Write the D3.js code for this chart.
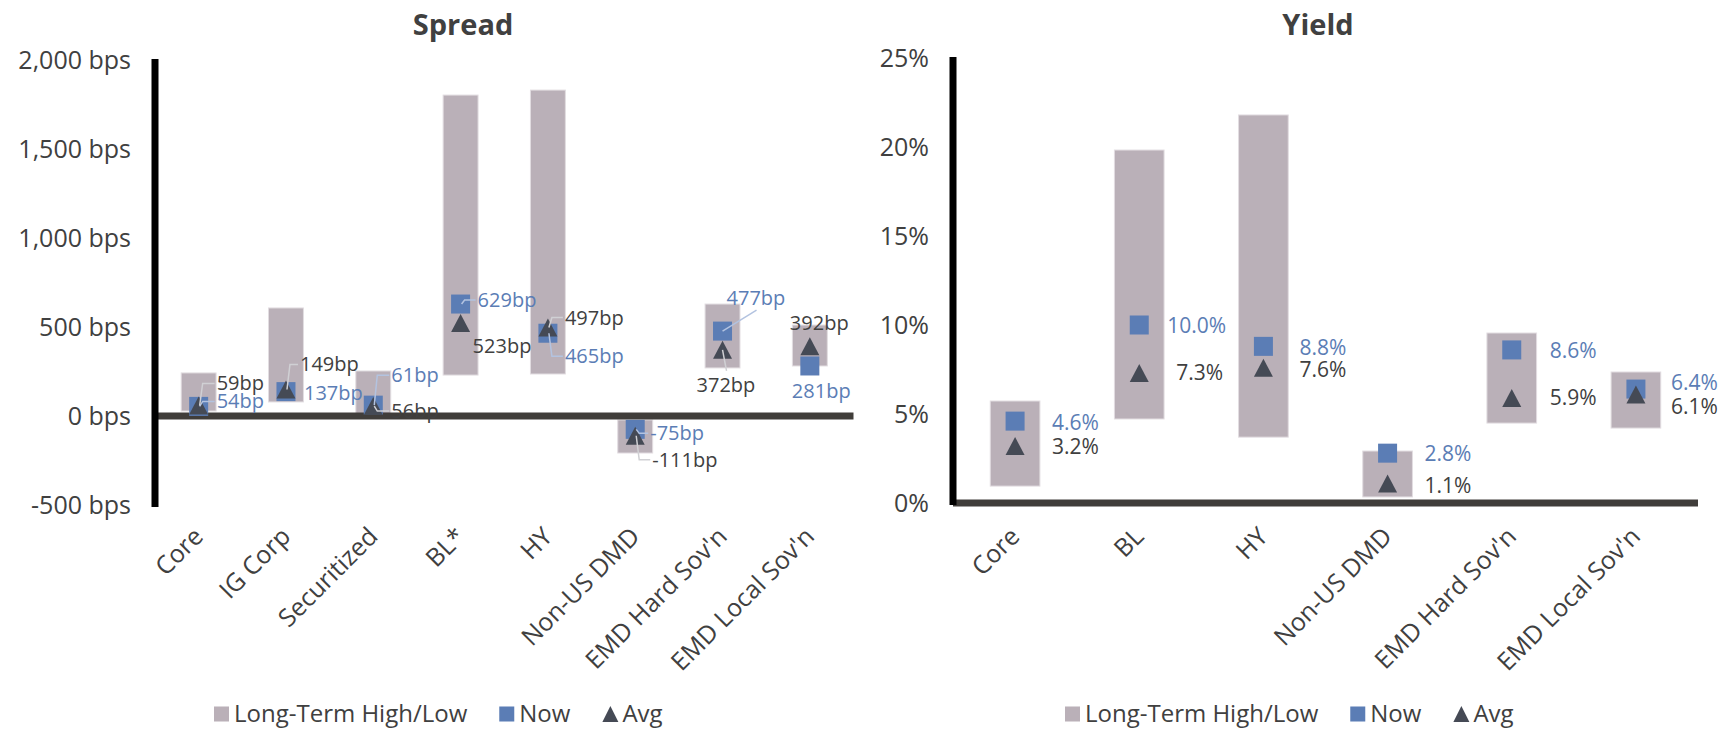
<!DOCTYPE html>
<html>
<head>
<meta charset="utf-8">
<script src="https://cdn.jsdelivr.net/npm/d3@7"></script>
<style>
  body { margin: 0; background: #fff; }
  text { font-family: "Open Sans", "Noto Sans", sans-serif; fill: #404040; }
</style>
</head>
<body>
<div id="root"></div>
<script>
// Spread data (bps)
const spreadCats = ["Core", "IG Corp", "Securitized", "BL*", "HY", "Non-US DMD", "EMD Hard Sov'n", "EMD Local Sov'n"];
const spreadHigh = [242, 607, 253, 1803, 1831, -22, 629, 511];
const spreadLow = [28, 79, 2, 230, 236, -208, 270, 281];
const spreadNow = [54, 137, 61, 629, 465, -75, 477, 281];
const spreadAvg = [59, 149, 56, 523, 497, -111, 372, 392];
const spreadTicks = [-500, 0, 500, 1000, 1500, 2000];

// Yield data (%)
const yieldCats = ["Core", "BL", "HY", "Non-US DMD", "EMD Hard Sov'n", "EMD Local Sov'n"];
const yieldHigh = [5.73, 19.83, 21.8, 2.92, 9.55, 7.36];
const yieldLow = [0.95, 4.72, 3.7, 0.34, 4.49, 4.21];
const yieldNow = [4.6, 10.0, 8.8, 2.8, 8.6, 6.4];
const yieldAvg = [3.2, 7.3, 7.6, 1.1, 5.9, 6.1];
const yieldTicks = [0, 5, 10, 15, 20, 25];

// label placement (px offset from marker, leader type)
const spreadNowLbl = [[18, -5, "e"], [18, 1, null], [18, -30, "e"], [17, -4, "e"], [17, 23, "e"], [15, 4, "e"], [4, -33, "b"], [-18, 25, null]];
const spreadAvgLbl = [[18, -22, "e"], [14, -25, "e"], [18, 5, "e"], [12, 23, null], [17, -10, "e"], [17, 24, "e"], [-26, 35, "t"], [-20, -23, null]];
const yieldNowLbl = [[37, 2], [28, 1], [36, 1], [37, 0], [38, 1], [35, -6]];
const yieldAvgLbl = [[37, 1], [37, 0], [36, 2], [37, 2], [38, 0], [35, 12]];

const barColor = "#bab0b8", nowColor = "#5b7db5", avgColor = "#454a55";

const svg = d3.select("#root").append("svg")
    .attr("width", 1731)
    .attr("height", 731);

const triPath = "M0,-9L9.5,9L-9.5,9Z";

function drawPanel(opt) {
    const g = svg.append("g");
    const x = d3.scaleBand().domain(opt.cats).range([opt.left, opt.right]).padding(0);
    const y = d3.scaleLinear().domain(opt.domain).range([opt.bottom, opt.top]);
    const bw = x.bandwidth() * 0.4;
    const cx = (i) => x(opt.cats[i]) + x.bandwidth() / 2;

    // title
    g.append("text")
        .attr("x", opt.titleX).attr("y", 25)
        .attr("dy", "0.35em")
        .attr("text-anchor", "middle")
        .style("font-size", "29px").style("font-weight", "bold")
        .text(opt.title);

    // y axis labels
    const ya = g.append("g")
        .attr("transform", "translate(" + (opt.left - 24) + ",0)")
        .call(d3.axisLeft(y).tickValues(opt.ticks).tickSize(0).tickPadding(0).tickFormat(opt.fmt));
    ya.select(".domain").remove();
    ya.selectAll("text").style("font-size", "25px").attr("fill", "#404040")
        .style("font-family", "'Open Sans', sans-serif");

    // range bars
    g.selectAll("rect.rng").data(opt.cats).enter().append("rect")
        .attr("class", "rng")
        .attr("x", (d, i) => cx(i) - bw / 2)
        .attr("width", bw)
        .attr("y", (d, i) => y(opt.high[i]))
        .attr("height", (d, i) => y(opt.low[i]) - y(opt.high[i]))
        .attr("fill", barColor)
        .attr("stroke", "#e2dde1").attr("stroke-width", 1);

    // axes lines
    g.append("line")
        .attr("x1", opt.left).attr("x2", opt.right)
        .attr("y1", y(0)).attr("y2", y(0))
        .attr("stroke", "#403d3a").attr("stroke-width", 7);
    g.append("line")
        .attr("x1", opt.left).attr("x2", opt.left)
        .attr("y1", opt.top - 1).attr("y2", opt.bottom + 2)
        .attr("stroke", "#000").attr("stroke-width", 7);

    // leaders
    function leader(i, v, lbl, color) {
        if (!lbl[2]) return;
        const mx = cx(i), my = y(v);
        const lx = mx + lbl[0], ly = my + lbl[1];
        let pts;
        if (lbl[2] === "e") pts = [[mx + 1, my], [mx + 4, ly], [lx - 2, ly]];
        else if (lbl[2] === "b") pts = [[mx, my], [lx + 30, ly + 12]];
        else pts = [[mx, my], [lx + 30, ly - 14]];
        g.append("path")
            .attr("d", d3.line()(pts))
            .attr("fill", "none")
            .attr("stroke", color).attr("stroke-width", 1.5);
    }

    // avg triangles
    g.selectAll("path.avg").data(opt.avg).enter().append("path")
        .attr("class", "avg")
        .attr("d", triPath)
        .attr("transform", (d, i) => "translate(" + cx(i) + "," + y(d) + ")")
        .attr("fill", avgColor);
    // now squares
    g.selectAll("rect.now").data(opt.now).enter().append("rect")
        .attr("class", "now")
        .attr("x", (d, i) => cx(i) - 9.5)
        .attr("y", (d) => y(d) - 9.5)
        .attr("width", 19).attr("height", 19)
        .attr("fill", nowColor);
    g.selectAll("path.avg").raise();

    if (opt.nowLbl[0].length > 2) {
        opt.now.forEach((v, i) => leader(i, v, opt.nowLbl[i], "#b3c3e0"));
        opt.avg.forEach((v, i) => leader(i, v, opt.avgLbl[i], "#d0d0d4"));
    }

    // data labels
    g.selectAll("text.nowl").data(opt.now).enter().append("text")
        .attr("class", "nowl")
        .attr("x", (d, i) => cx(i) + opt.nowLbl[i][0])
        .attr("y", (d, i) => y(d) + opt.nowLbl[i][1])
        .attr("dy", "0.35em")
        .style("font-size", opt.lblSize)
        .style("fill", nowColor)
        .text(opt.lblFmt);
    g.selectAll("text.avgl").data(opt.avg).enter().append("text")
        .attr("class", "avgl")
        .attr("x", (d, i) => cx(i) + opt.avgLbl[i][0])
        .attr("y", (d, i) => y(d) + opt.avgLbl[i][1])
        .attr("dy", "0.35em")
        .style("font-size", opt.lblSize)
        .text(opt.lblFmt);

    // category labels
    g.selectAll("text.cat").data(opt.cats).enter().append("text")
        .attr("class", "cat")
        .attr("text-anchor", "end")
        .attr("transform", (d, i) => "translate(" + (cx(i) + 6) + ",538) rotate(-45)")
        .style("font-size", "25px")
        .text(d => d);

    // legend
    const lg = g.append("g").attr("transform", "translate(" + opt.legendX + ",714)");
    let lx = 0;
    const items = [["rect", barColor, "Long-Term High/Low"], ["rect", nowColor, "Now"], ["tri", avgColor, "Avg"]];
    items.forEach(it => {
        if (it[0] === "rect") {
            lg.append("rect").attr("x", lx).attr("y", -7.5).attr("width", 15).attr("height", 15).attr("fill", it[1]);
        } else {
            lg.append("path").attr("d", "M8,-8L16,8L0,8Z").attr("transform", "translate(" + lx + ",0)").attr("fill", it[1]);
        }
        const t = lg.append("text").attr("x", lx + 20).attr("dy", "0.33em")
            .style("font-size", "24px").text(it[2]);
        lx += 20 + t.node().getComputedTextLength() + 32;
    });
}

drawPanel({
    cats: spreadCats, high: spreadHigh, low: spreadLow, now: spreadNow, avg: spreadAvg,
    domain: [-500, 2000], ticks: spreadTicks,
    fmt: d => d3.format(",")(d).replace("\u2212", "-") + " bps",
    lblFmt: d => d + "bp", lblSize: "20px",
    nowLbl: spreadNowLbl, avgLbl: spreadAvgLbl,
    left: 155, right: 853.5, top: 60, bottom: 505,
    title: "Spread", titleX: 463, legendX: 214
});

drawPanel({
    cats: yieldCats, high: yieldHigh, low: yieldLow, now: yieldNow, avg: yieldAvg,
    domain: [0, 25], ticks: yieldTicks,
    fmt: d => d + "%",
    lblFmt: d => d.toFixed(1) + "%", lblSize: "21px",
    nowLbl: yieldNowLbl, avgLbl: yieldAvgLbl,
    left: 953, right: 1698, top: 58, bottom: 503,
    title: "Yield", titleX: 1318, legendX: 1065
});
</script>
</body>
</html>
